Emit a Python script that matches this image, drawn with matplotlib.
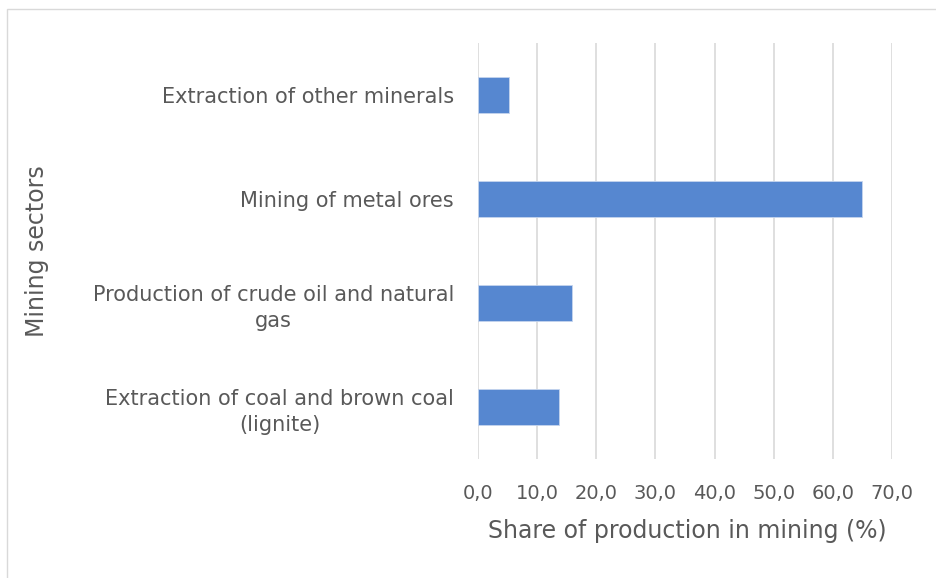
import matplotlib

matplotlib.use("Agg")
import matplotlib.pyplot as plt
from matplotlib.patches import Rectangle
from matplotlib.ticker import FuncFormatter

sectors = [
    "Extraction of coal and brown coal\n(lignite)",
    "Production of crude oil and natural\ngas",
    "Mining of metal ores",
    "Extraction of other minerals",
]
shares = [13.7, 16.0, 64.9, 5.3]
xticks = [0, 10, 20, 30, 40, 50, 60, 70]

TEXT = "#595959"
plt.rcParams["font.family"] = ["DejaVu Sans"]

fig = plt.figure(figsize=(9.37, 5.78), dpi=100)
# outer chart frame (partly cut off by the screenshot)
fig.patches.append(Rectangle((7 / 937, -0.1), 1.2, 1.1 - 9 / 578,
                             transform=fig.transFigure, fill=False,
                             edgecolor="#d9d9d9", linewidth=1.0))

ax = fig.add_axes([477.7 / 937, 119 / 578, 414.6 / 937, 416 / 578])
ax.barh(range(len(sectors)), shares, height=0.35, color="#5687d0",
        edgecolor="#c5d5ee", linewidth=0.6, zorder=3)
ax.set_xlim(0, 70)
ax.set_ylim(-0.5, len(sectors) - 0.5)
ax.set_xticks(xticks)
ax.xaxis.set_major_formatter(FuncFormatter(lambda v, _: f"{v:.1f}".replace(".", ",")))
ax.set_yticks(range(len(sectors)))
ax.set_yticklabels(sectors, multialignment="center", linespacing=1.35)
ax.tick_params(axis="both", length=0, labelsize=14, labelcolor=TEXT)
ax.tick_params(axis="y", labelsize=15, pad=17)
ax.tick_params(axis="x", pad=18)
ax.grid(axis="x", color="#d9d9d9", linewidth=1.2, zorder=0)
for s in ax.spines.values():
    s.set_visible(False)

fig.text(687 / 937, 1 - 531 / 578, "Share of production in mining (%)",
         ha="center", va="center", fontsize=17, color=TEXT)
fig.text(37 / 937, 1 - 251 / 578, "Mining sectors", rotation=90,
         ha="center", va="center", fontsize=17, color=TEXT)

fig.savefig("out.png", dpi=100)
